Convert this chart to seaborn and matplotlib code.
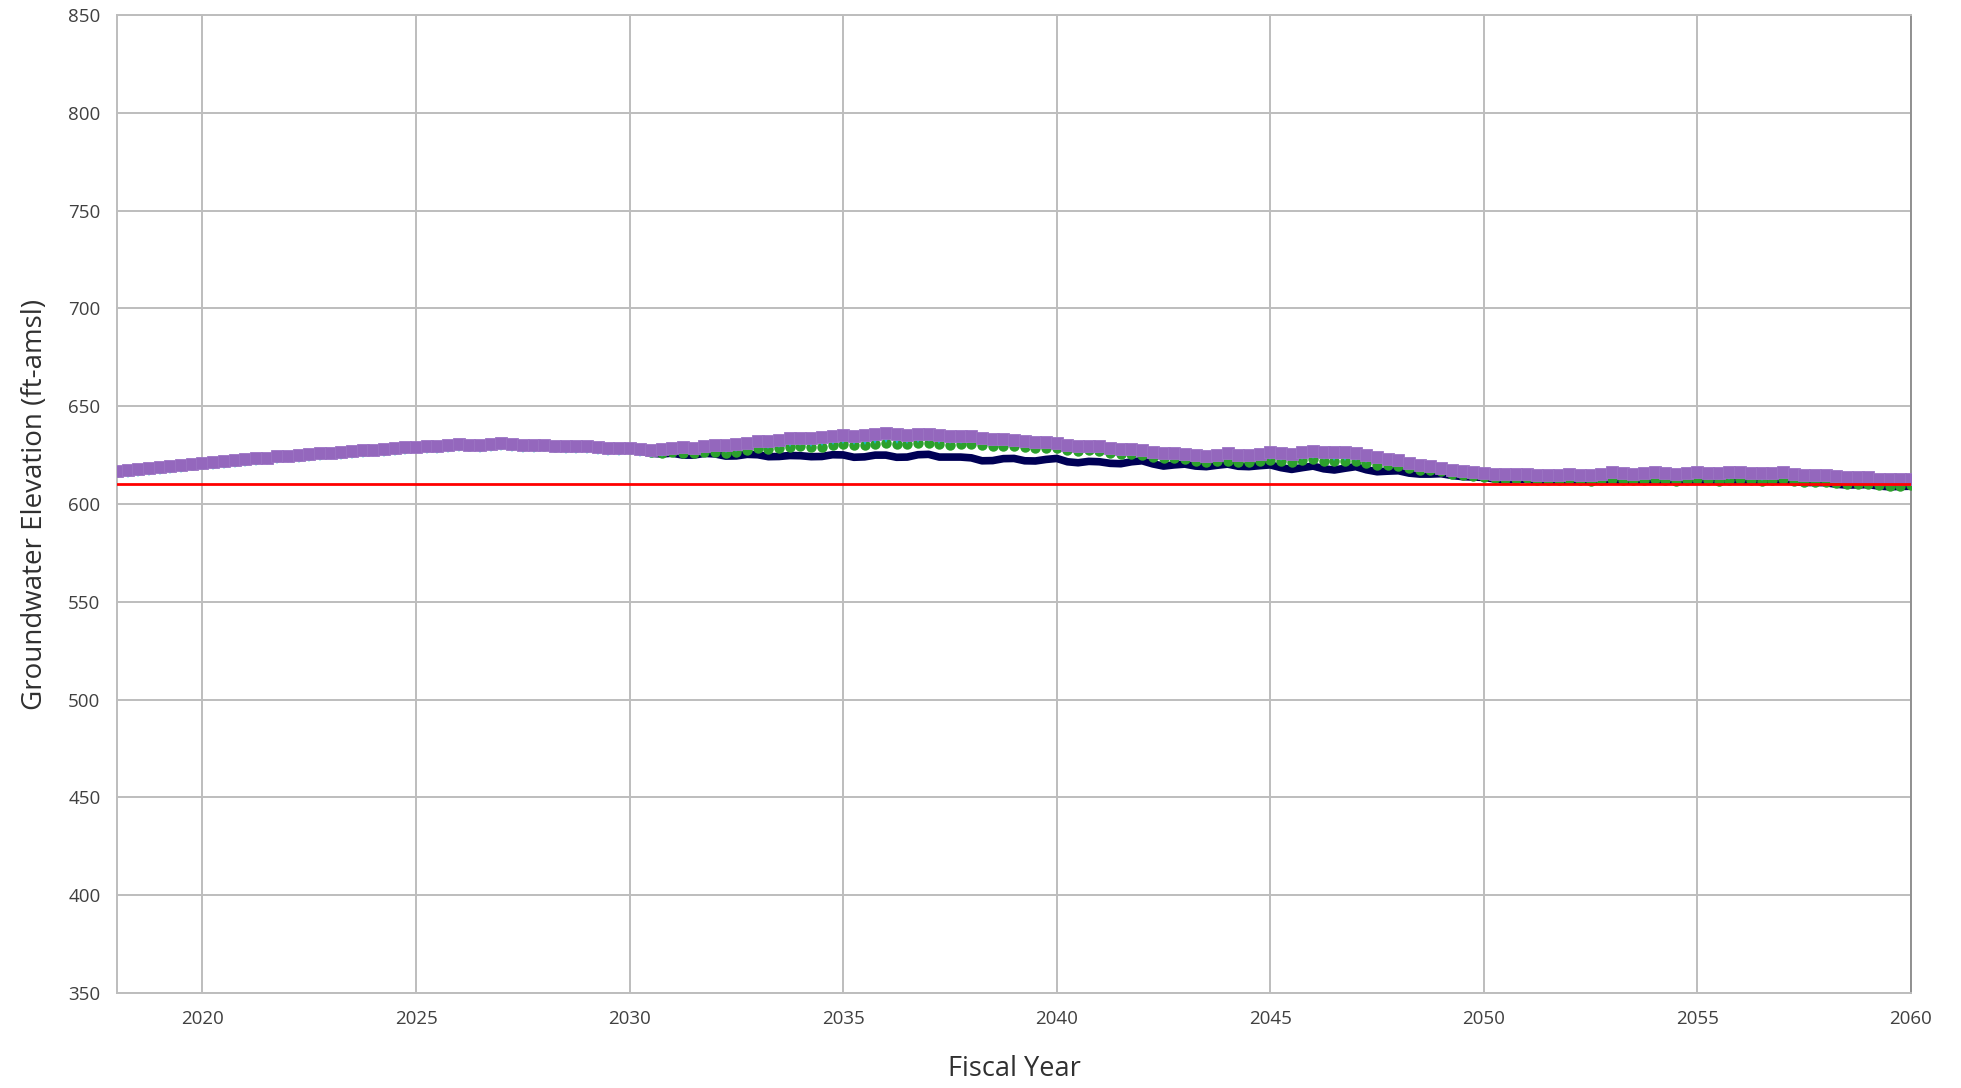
#!/usr/bin/env python3
"""Groundwater elevation projection chart."""

import matplotlib

matplotlib.use("Agg")

import matplotlib.pyplot as plt
import numpy as np
import pandas as pd
import seaborn as sns

sns.set_theme(style="white")
plt.rcParams["font.family"] = ["Open Sans", "DejaVu Sans"]

# quarterly time steps, 2018.00 .. 2060.00
YEARS = np.arange(2018, 2060.01, 0.25)

# one row per fiscal year (4 quarters), last value = 2060.0
PURPLE = [
    617.0, 617.4, 617.9, 618.5,
    619.0, 619.5, 620.0, 620.6,
    621.1, 621.5, 621.9, 622.4,
    622.9, 623.3, 623.7, 624.3,
    624.8, 625.1, 625.5, 625.9,
    626.3, 626.6, 627.0, 627.4,
    627.8, 628.0, 628.4, 628.9,
    629.3, 629.5, 629.7, 630.2,
    630.6, 630.3, 630.2, 630.6,
    631.0, 630.5, 630.1, 630.2,
    630.3, 629.8, 629.5, 629.6,
    629.6, 629.0, 628.5, 628.6,
    628.8, 628.0, 627.6, 628.0,
    628.8, 629.0, 628.8, 629.5,
    630.2, 630.4, 630.6, 631.3,
    632.2, 632.3, 632.6, 633.5,
    634.0, 633.9, 634.2, 634.8,
    635.3, 635.0, 635.2, 635.8,
    636.2, 635.7, 635.4, 635.8,
    636.0, 635.2, 634.7, 634.8,
    634.6, 633.8, 633.3, 633.4,
    632.9, 632.0, 631.6, 631.6,
    631.2, 630.3, 629.8, 629.9,
    629.6, 628.7, 628.0, 627.9,
    627.6, 626.8, 626.0, 626.0,
    625.8, 625.0, 624.8, 625.2,
    625.9, 625.3, 625.2, 625.8,
    626.5, 625.9, 625.8, 626.6,
    627.3, 626.8, 626.4, 626.6,
    626.2, 625.0, 624.0, 623.2,
    622.3, 621.0, 620.1, 619.4,
    618.6, 617.6, 617.0, 616.5,
    615.9, 615.4, 615.2, 615.3,
    615.3, 614.9, 614.8, 615.0,
    615.3, 614.9, 615.0, 615.6,
    616.2, 615.8, 615.6, 615.8,
    616.2, 615.7, 615.6, 616.0,
    616.5, 616.0, 615.9, 616.2,
    616.6, 616.0, 615.8, 616.0,
    616.2, 615.5, 615.0, 614.9,
    614.8, 614.2, 613.8, 613.7,
    613.6, 613.0, 612.8, 612.8,
    612.6,
]

CYAN = [
    614.6, 615.0, 615.5, 616.1,
    616.6, 617.1, 617.6, 618.2,
    618.7, 619.1, 619.5, 620.0,
    620.5, 620.9, 621.3, 621.9,
    622.4, 622.7, 623.1, 623.5,
    623.9, 624.2, 624.6, 625.0,
    625.4, 625.6, 626.0, 626.5,
    626.9, 627.1, 627.3, 627.8,
    628.2, 627.9, 627.8, 628.2,
    628.6, 628.1, 627.7, 627.8,
    627.9, 627.4, 627.1, 627.2,
    627.2, 626.6, 626.1, 626.2,
    626.4, 625.6, 625.2, 625.6,
    628.3, 627.6, 627.5, 628.1,
    628.4, 627.8, 628.0, 629.0,
    630.1, 629.8, 630.4, 630.9,
    631.2, 630.8, 631.0, 631.8,
    632.2, 631.6, 631.7, 632.4,
    632.9, 632.2, 632.1, 632.7,
    633.0, 632.2, 632.0, 632.4,
    632.5, 631.6, 631.3, 631.5,
    631.4, 630.5, 630.1, 630.4,
    630.3, 629.4, 628.9, 629.1,
    628.8, 627.7, 627.1, 627.2,
    626.9, 625.7, 625.0, 625.0,
    624.6, 623.5, 623.0, 623.4,
    623.8, 623.0, 622.9, 623.5,
    624.1, 623.4, 623.3, 624.0,
    624.5, 623.8, 623.4, 623.6,
    623.4, 622.4, 621.8, 621.6,
    621.2, 620.0, 619.2, 618.8,
    618.3, 617.2, 616.4, 616.0,
    615.6, 614.8, 614.4, 614.6,
    614.7, 614.0, 613.8, 614.1,
    614.3, 613.7, 613.6, 614.1,
    614.6, 613.9, 613.7, 614.1,
    614.5, 613.8, 613.6, 614.0,
    614.5, 613.8, 613.6, 614.0,
    614.4, 613.7, 613.5, 613.9,
    614.2, 613.4, 613.0, 613.0,
    612.9, 612.1, 611.7, 611.8,
    611.9, 611.2, 610.8, 611.0,
    611.1,
]

GREEN = [
    616.6, 617.0, 617.5, 618.1,
    618.6, 619.1, 619.6, 620.2,
    620.7, 621.1, 621.5, 622.0,
    622.5, 622.9, 623.3, 623.9,
    624.4, 624.7, 625.1, 625.5,
    625.9, 626.2, 626.6, 627.0,
    627.4, 627.6, 628.0, 628.5,
    628.9, 629.1, 629.3, 629.8,
    630.2, 629.9, 629.8, 630.2,
    630.6, 630.1, 629.7, 629.8,
    629.9, 629.4, 629.1, 629.2,
    629.2, 628.6, 628.1, 628.2,
    628.2, 627.4, 626.4, 626.2,
    626.7, 626.0, 625.9, 626.5,
    626.8, 626.2, 626.4, 627.4,
    628.5, 628.2, 628.8, 629.3,
    629.6, 629.2, 629.4, 630.2,
    630.6, 630.0, 630.1, 630.8,
    631.3, 630.6, 630.5, 631.1,
    631.4, 630.6, 630.4, 630.8,
    630.9, 630.0, 629.7, 629.9,
    629.8, 628.9, 628.5, 628.8,
    628.7, 627.8, 627.3, 627.5,
    627.2, 626.1, 625.5, 625.6,
    625.3, 624.1, 623.4, 623.4,
    623.0, 621.9, 621.4, 621.8,
    622.2, 621.4, 621.3, 621.9,
    622.5, 621.8, 621.7, 622.4,
    622.9, 622.2, 621.8, 622.0,
    621.8, 620.8, 620.2, 620.0,
    619.6, 618.4, 617.6, 617.2,
    616.7, 615.6, 614.8, 614.4,
    614.0, 613.2, 612.8, 613.0,
    613.1, 612.4, 612.2, 612.5,
    612.7, 612.1, 612.0, 612.5,
    613.0, 612.3, 612.1, 612.5,
    612.9, 612.2, 612.0, 612.4,
    612.9, 612.2, 612.0, 612.4,
    612.8, 612.1, 611.9, 612.3,
    612.6, 611.8, 611.4, 611.4,
    611.3, 610.5, 610.1, 610.2,
    610.3, 609.6, 609.2, 609.4,
    609.5,
]

NAVY = [
    616.4, 616.8, 617.3, 617.9,
    618.4, 618.9, 619.4, 620.0,
    620.5, 620.9, 621.3, 621.8,
    622.3, 622.7, 623.1, 623.7,
    624.2, 624.5, 624.9, 625.3,
    625.7, 626.0, 626.4, 626.8,
    627.2, 627.4, 627.8, 628.3,
    628.7, 628.9, 629.1, 629.6,
    630.0, 629.7, 629.6, 630.0,
    630.4, 629.9, 629.5, 629.6,
    629.7, 629.2, 628.9, 629.0,
    629.0, 628.4, 627.9, 628.0,
    628.1, 627.0, 625.9, 625.6,
    626.0, 625.0, 625.0, 625.9,
    625.6, 624.5, 624.6, 625.4,
    625.2, 624.2, 624.3, 624.8,
    624.7, 624.2, 624.3, 625.2,
    625.1, 623.9, 624.1, 625.0,
    625.0, 623.9, 624.0, 625.2,
    625.4, 624.0, 624.0, 624.0,
    623.6, 622.1, 622.2, 623.2,
    623.3, 622.1, 622.0, 622.8,
    623.3, 621.6, 621.1, 621.8,
    621.6, 620.8, 620.6, 621.6,
    622.1, 620.5, 619.4, 620.0,
    620.4, 619.4, 619.1, 619.8,
    620.4, 619.3, 619.1, 619.6,
    620.0, 618.6, 617.7, 618.6,
    619.4, 618.0, 617.4, 618.3,
    619.1, 617.5, 616.5, 616.8,
    617.0, 615.8, 615.3, 615.3,
    615.5, 614.6, 614.0, 613.8,
    613.6, 612.8, 612.4, 612.6,
    612.7, 612.0, 611.8, 612.1,
    612.3, 611.7, 611.6, 612.1,
    612.6, 611.9, 611.7, 612.1,
    612.5, 611.8, 611.6, 612.0,
    612.5, 611.8, 611.6, 612.0,
    612.4, 611.7, 611.5, 611.9,
    612.2, 611.4, 611.0, 611.0,
    610.9, 610.1, 609.7, 609.8,
    609.9, 609.2, 608.8, 609.0,
    609.1,
]

THRESHOLD = 610.0
X_TICKS = [2020, 2025, 2030, 2035, 2040, 2045, 2050, 2055, 2060]
Y_TICKS = [350, 400, 450, 500, 550, 600, 650, 700, 750, 800, 850]


def main() -> None:
    df = pd.DataFrame(
        {
            "year": YEARS,
            "navy": NAVY,
            "green": GREEN,
            "cyan": CYAN,
            "purple": PURPLE,
        }
    )

    fig = plt.figure(figsize=(19.61, 10.88), dpi=100)
    ax = fig.add_axes([0.0597, 0.0873, 0.9148, 0.8989])

    sns.lineplot(data=df, x="year", y="navy", ax=ax, color="#000055",
                 linewidth=5.5, zorder=3)
    sns.lineplot(data=df, x="year", y="green", ax=ax, color="#2ca02c",
                 linewidth=0, marker="o", markersize=7.5,
                 markeredgewidth=0, zorder=4)
    sns.lineplot(data=df, x="year", y="cyan", ax=ax, color="#17becf",
                 linewidth=0, marker="v", markersize=5,
                 markeredgewidth=0, zorder=5)
    sns.lineplot(data=df, x="year", y="purple", ax=ax, color="#9467bd",
                 linewidth=2, marker="s", markersize=8,
                 markeredgewidth=0.6, markeredgecolor="#9c73c4", zorder=6)
    ax.axhline(THRESHOLD, color="#ff0000", linewidth=2, zorder=7)

    ax.set_xlim(2018, 2060)
    ax.set_ylim(350, 850)
    ax.set_xticks(X_TICKS)
    ax.set_yticks(Y_TICKS)
    ax.grid(True, color="#bdbdbd", linewidth=1.4)
    ax.set_axisbelow(True)
    for side in ["left", "bottom", "top", "right"]:
        ax.spines[side].set_color("#bdbdbd")
        ax.spines[side].set_linewidth(1.4)
    ax.spines["right"].set_color("#909090")

    ax.tick_params(axis="both", length=0, labelsize=13.5,
                   labelcolor="#404040", pad=12)
    ax.set_xlabel("Fiscal Year", fontsize=19.5, color="#303030", labelpad=20)
    ax.set_ylabel("Groundwater Elevation (ft-amsl)", fontsize=20,
                  color="#303030", labelpad=14)

    fig.savefig("out.png", dpi=100)
    plt.close(fig)


if __name__ == "__main__":
    main()
